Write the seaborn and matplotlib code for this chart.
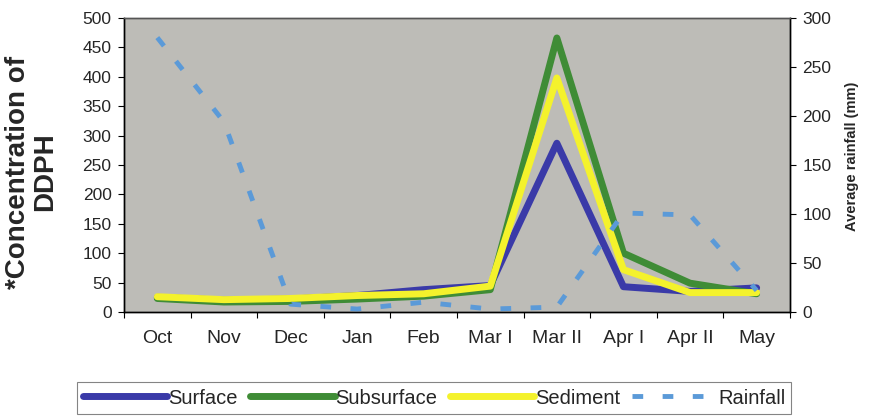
import matplotlib
matplotlib.use("Agg")
import matplotlib.pyplot as plt
import seaborn as sns
import pandas as pd
import numpy as np
from matplotlib.ticker import FixedLocator, MultipleLocator

# Sampling periods
periods = ["Oct", "Nov", "Dec", "Jan", "Feb", "Mar I", "Mar II", "Apr I", "Apr II", "May"]

# DDPH concentration in each compartment
surface = [25, 20, 22, 28, 38, 45, 287, 43, 35, 41]
subsurface = [23, 17, 18, 22, 27, 38, 466, 100, 49, 31]
sediment = [26, 21, 23, 28, 31, 44, 398, 72, 33, 33]

# Average rainfall (mm)
rainfall = [280, 194, 8, 3, 10, 3, 5, 101, 99, 22]

sns.set_theme(style="white")
plt.rcParams["font.family"] = ["Liberation Sans", "DejaVu Sans"]

conc = pd.DataFrame({
    "period": periods * 3,
    "value": surface + subsurface + sediment,
    "series": ["Surface"] * 10 + ["Subsurface"] * 10 + ["Sediment"] * 10,
})
rain = pd.DataFrame({"period": periods, "value": rainfall})

colors = {"Surface": "#3a3aa8", "Subsurface": "#3f8c36", "Sediment": "#f4f22c"}
rain_color = "#5b9ad8"
line_w = 5.0

fig = plt.figure(figsize=(8.69, 4.18), dpi=100)
ax = fig.add_axes([0.1427, 0.2536, 0.7663, 0.7034])
ax.set_facecolor("#bdbcb7")

sns.lineplot(data=conc, x="period", y="value", hue="series", palette=colors,
             hue_order=["Surface", "Subsurface", "Sediment"], sort=False,
             linewidth=line_w, ax=ax, legend=False)

ax2 = ax.twinx()
sns.lineplot(data=rain, x="period", y="value", sort=False, color=rain_color,
             linewidth=3.5, ax=ax2, legend=False)
ax2.lines[0].set_dashes([2.2, 4])

ax.set_xlim(-0.5, 9.5)
ax.set_ylim(0, 500)
ax2.set_ylim(0, 300)
ax.yaxis.set_major_locator(MultipleLocator(50))
ax2.yaxis.set_major_locator(MultipleLocator(50))

ax.set_xticks(range(len(periods)))
ax.set_xticklabels(periods, fontsize=14)
ax.xaxis.set_minor_locator(FixedLocator(np.arange(-0.5, 10, 1)))
ax.tick_params(axis="x", which="major", length=0, pad=13)
ax.tick_params(axis="x", which="minor", length=4, width=0.8, color="black", direction="out", bottom=True)
ax.tick_params(axis="y", length=4, width=0.8, color="black", direction="out", left=True, labelsize=12.5, pad=5)
ax2.tick_params(axis="y", length=4, width=0.8, color="black", direction="out", right=True, labelsize=12.5, pad=5)

ax.set_xlabel("")
ax.set_ylabel("*Concentration of\nDDPH", fontsize=20, fontweight="bold", linespacing=1.05)
ax.yaxis.set_label_coords(-0.099, 0.476)
ax2.set_ylabel("Average rainfall (mm)", fontsize=10.5, fontweight="bold")
ax2.yaxis.set_label_coords(1.0826, 0.53)

for a in (ax, ax2):
    for side in ("left", "bottom", "right"):
        a.spines[side].set_color("black")
        a.spines[side].set_linewidth(1.0)
    a.spines["top"].set_color("#555555")
    a.spines["top"].set_linewidth(1.0)

handles = [plt.Line2D([], [], color=colors[k], linewidth=line_w) for k in ["Surface", "Subsurface", "Sediment"]]
rh = plt.Line2D([], [], color=rain_color, linewidth=3.5)
rh.set_dashes([2.2, 4])
handles.append(rh)
leg = fig.legend(handles, ["Surface", "Subsurface", "Sediment", "Rainfall"], loc="center",
                 bbox_to_anchor=(434 / 869, 1 - 398 / 418), ncol=4, fontsize=14.5,
                 handlelength=4.2, handletextpad=0.05, columnspacing=0.6,
                 frameon=True, fancybox=False, edgecolor="#666666", borderpad=0.3)
leg.get_frame().set_linewidth(0.8)

fig.savefig("out.png", dpi=100)
